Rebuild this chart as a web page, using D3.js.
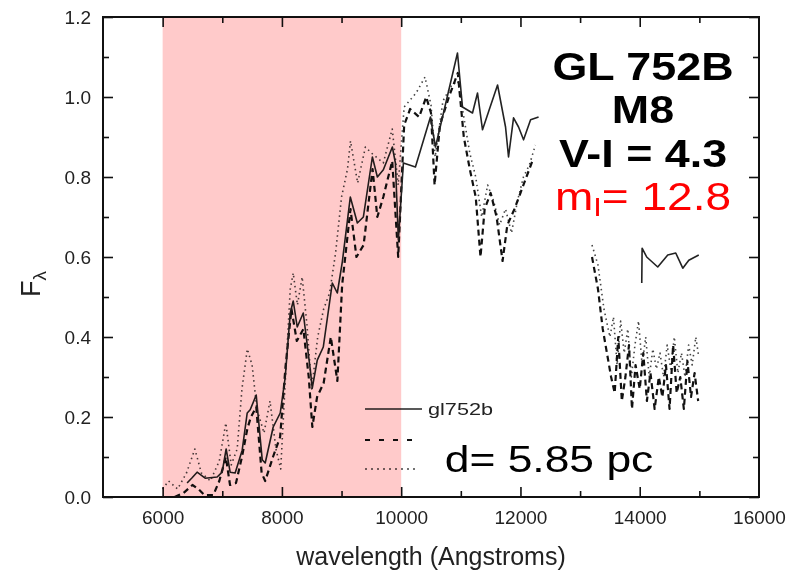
<!DOCTYPE html>
<html>
<head>
<meta charset="utf-8">
<script src="https://cdn.jsdelivr.net/npm/d3@7"></script>
<style>
  body { margin: 0; background: #fff; }
  svg { display: block; font-family: "Liberation Sans", Arial, sans-serif; }
</style>
</head>
<body>
<div id="chart"></div>
<script>
// Constants
const width = 792;
const height = 575;
const plot = {left: 103, right: 759, top: 17, bottom: 497};

// tick values
const majorX = [6000, 8000, 10000, 12000, 14000, 16000];
const minorX = [7000, 9000, 11000, 13000, 15000];
const majorY = [0, 0.2, 0.4, 0.6, 0.8, 1.0, 1.2];
const minorY = [0.1, 0.3, 0.5, 0.7, 0.9, 1.1];

// shaded band (Angstroms)
const band = [6000, 10000];

// gl752b, solid line [wavelength, flux]
const solidA = [
  [6410, 0.035], [6494, 0.048], [6578, 0.062], [6713, 0.047], [6914, 0.05],
  [6998, 0.062], [7065, 0.12], [7132, 0.062], [7216, 0.06], [7334, 0.117],
  [7418, 0.21], [7468, 0.218], [7569, 0.255], [7670, 0.093], [7720, 0.085],
  [7854, 0.175], [7972, 0.21], [8056, 0.30], [8140, 0.46], [8190, 0.49],
  [8257, 0.425], [8358, 0.46], [8476, 0.318], [8509, 0.272], [8593, 0.342],
  [8694, 0.375], [8845, 0.535], [8929, 0.51], [9013, 0.588], [9147, 0.75],
  [9265, 0.685], [9366, 0.70], [9517, 0.85], [9601, 0.80], [9701, 0.818],
  [9852, 0.875], [9903, 0.835], [9953, 0.643], [10037, 0.835], [10239, 0.825],
  [10491, 0.95], [10575, 0.875], [10709, 0.96], [10944, 1.11], [11028, 0.975],
  [11196, 0.96], [11280, 1.01], [11364, 0.918], [11465, 0.963], [11616, 1.03],
  [11750, 0.925], [11800, 0.85], [11884, 0.948], [11968, 0.925], [12052, 0.893],
  [12170, 0.943], [12304, 0.95]
];
const solidB = [
  [14034, 0.535], [14040, 0.622], [14117, 0.60], [14302, 0.575], [14470, 0.605],
  [14604, 0.61], [14722, 0.572], [14823, 0.592], [14990, 0.605]
];

// dashed line
const dashedA = [
  [6200, 0.0], [6350, 0.01], [6500, 0.03], [6600, 0.02], [6700, 0.005],
  [6850, 0.005], [6950, 0.04], [7060, 0.10], [7130, 0.03], [7230, 0.035],
  [7330, 0.10], [7420, 0.17], [7480, 0.20], [7570, 0.225], [7660, 0.06],
  [7720, 0.04], [7850, 0.10], [7970, 0.15], [8060, 0.325], [8160, 0.47],
  [8250, 0.39], [8360, 0.42], [8450, 0.30], [8510, 0.175], [8590, 0.25],
  [8700, 0.285], [8820, 0.40], [8930, 0.29], [9010, 0.53], [9150, 0.72],
  [9250, 0.60], [9370, 0.63], [9520, 0.82], [9600, 0.70], [9700, 0.75],
  [9850, 0.84], [9950, 0.60], [10050, 0.93], [10150, 0.97], [10300, 0.95],
  [10420, 1.0], [10500, 0.96], [10560, 0.78], [10650, 0.93], [10800, 1.0],
  [10950, 1.06], [11050, 0.90], [11150, 0.82], [11250, 0.75], [11330, 0.60],
  [11400, 0.72], [11500, 0.76], [11600, 0.70], [11700, 0.59], [11780, 0.68],
  [11900, 0.72], [12000, 0.76], [12100, 0.80], [12200, 0.84]
];
const dashedB = [
  [13200, 0.60], [13300, 0.52], [13380, 0.42], [13450, 0.36], [13520, 0.30],
  [13580, 0.26], [13640, 0.40], [13700, 0.24], [13760, 0.30], [13820, 0.38],
  [13870, 0.22], [13930, 0.33], [14000, 0.27], [14060, 0.36], [14120, 0.24],
  [14180, 0.31], [14250, 0.22], [14320, 0.30], [14380, 0.25], [14440, 0.33],
  [14500, 0.22], [14560, 0.38], [14620, 0.26], [14680, 0.30], [14740, 0.22],
  [14800, 0.34], [14860, 0.25], [14920, 0.31], [14980, 0.24]
];

// dotted line
const dottedA = [
  [6000, 0.02], [6100, 0.04], [6250, 0.02], [6400, 0.06], [6540, 0.12],
  [6650, 0.06], [6800, 0.04], [6950, 0.09], [7060, 0.185], [7150, 0.08],
  [7250, 0.12], [7330, 0.27], [7420, 0.37], [7500, 0.33], [7580, 0.22],
  [7700, 0.16], [7800, 0.24], [7900, 0.12], [7980, 0.07], [8060, 0.30],
  [8140, 0.52], [8190, 0.56], [8260, 0.48], [8340, 0.55], [8420, 0.43],
  [8500, 0.27], [8600, 0.40], [8700, 0.47], [8800, 0.51], [8900, 0.61],
  [9000, 0.75], [9100, 0.82], [9150, 0.89], [9270, 0.785], [9400, 0.875],
  [9500, 0.86], [9700, 0.835], [9850, 0.92], [9950, 0.78], [10050, 0.975],
  [10250, 1.01], [10400, 1.05], [10500, 0.98], [10570, 0.85], [10700, 0.99],
  [10850, 1.03], [10950, 1.04], [11050, 0.95], [11150, 0.86], [11250, 0.80],
  [11350, 0.70], [11450, 0.78], [11550, 0.74], [11650, 0.68], [11750, 0.72],
  [11850, 0.66], [11950, 0.74], [12050, 0.80], [12150, 0.83], [12250, 0.88]
];
const dottedB = [
  [13200, 0.63], [13300, 0.58], [13400, 0.47], [13500, 0.40], [13560, 0.45],
  [13620, 0.33], [13680, 0.44], [13740, 0.36], [13800, 0.42], [13860, 0.30],
  [13920, 0.38], [13980, 0.44], [14040, 0.33], [14100, 0.40], [14160, 0.30],
  [14220, 0.37], [14280, 0.32], [14340, 0.36], [14400, 0.30], [14460, 0.38],
  [14520, 0.32], [14580, 0.40], [14640, 0.31], [14700, 0.36], [14760, 0.30],
  [14820, 0.38], [14880, 0.33], [14940, 0.40], [14990, 0.35]
];

const styles = {
  solid:  {stroke: "#222", width: 1.6, dash: null},
  dashed: {stroke: "#111", width: 2.2, dash: "6,4"},
  dotted: {stroke: "#444", width: 1.6, dash: "1.5,3.5"}
};

const svg = d3.select("#chart")
  .append("svg")
  .attr("width", width)
  .attr("height", height);

const x = d3.scaleLinear()
  .domain([5000, 16000])
  .range([plot.left, plot.right]);

const y = d3.scaleLinear()
  .domain([0, 1.2])
  .range([plot.bottom, plot.top]);

const x0 = x(5000), x1 = x(16000);
const y0 = y(0), y1 = y(1.2);

// Spectra
const line = d3.line()
  .x(function(d){return x(d[0])})
  .y(function(d){return y(d[1])});

function drawSeries(data, st)
{
  svg.append("path")
    .datum(data)
    .attr("fill", "none")
    .attr("stroke", st.stroke)
    .attr("stroke-width", st.width)
    .attr("stroke-dasharray", st.dash)
    .attr("stroke-linejoin", "round")
    .attr("d", line);
}

drawSeries(dottedA, styles.dotted);
drawSeries(dottedB, styles.dotted);
drawSeries(dashedA, styles.dashed);
drawSeries(dashedB, styles.dashed);
drawSeries(solidA, styles.solid);
drawSeries(solidB, styles.solid);

// Axes (ticks point inward on all four sides)
function styleAxis(g)
{
  g.attr("font-family", null).attr("font-size", null);
  g.select(".domain").remove();
  g.selectAll(".tick line").attr("stroke", "#111").attr("stroke-width", 1.6);
  g.selectAll("text")
    .attr("fill", "#222")
    .style("font-size", "19px");
}

svg.append("g")
  .attr("transform", `translate(0,${y0})`)
  .call(d3.axisBottom(x).tickValues(majorX.slice(0, -1)).tickSize(-10).tickPadding(14).tickFormat(d3.format("d")).tickSizeOuter(0))
  .call(styleAxis);
// last label only, its tick is the frame corner
svg.append("g")
  .attr("transform", `translate(0,${y0})`)
  .call(d3.axisBottom(x).tickValues(majorX.slice(-1)).tickSize(0).tickPadding(14).tickFormat(d3.format("d")).tickSizeOuter(0))
  .call(styleAxis);
svg.append("g")
  .attr("transform", `translate(0,${y0})`)
  .call(d3.axisBottom(x).tickValues(minorX).tickSize(-6).tickFormat("").tickSizeOuter(0))
  .call(styleAxis);

svg.append("g")
  .attr("transform", `translate(0,${y1})`)
  .call(d3.axisTop(x).tickValues(majorX.slice(0, -1)).tickSize(-10).tickFormat("").tickSizeOuter(0))
  .call(styleAxis);
svg.append("g")
  .attr("transform", `translate(0,${y1})`)
  .call(d3.axisTop(x).tickValues(minorX).tickSize(-6).tickFormat("").tickSizeOuter(0))
  .call(styleAxis);

svg.append("g")
  .attr("transform", `translate(${x0},0)`)
  .call(d3.axisLeft(y).tickValues(majorY).tickSize(-10).tickPadding(12).tickFormat(d3.format(".1f")).tickSizeOuter(0))
  .call(styleAxis);
svg.append("g")
  .attr("transform", `translate(${x0},0)`)
  .call(d3.axisLeft(y).tickValues(minorY).tickSize(-6).tickFormat("").tickSizeOuter(0))
  .call(styleAxis);

svg.append("g")
  .attr("transform", `translate(${x1},0)`)
  .call(d3.axisRight(y).tickValues(majorY).tickSize(-10).tickFormat("").tickSizeOuter(0))
  .call(styleAxis);
svg.append("g")
  .attr("transform", `translate(${x1},0)`)
  .call(d3.axisRight(y).tickValues(minorY).tickSize(-6).tickFormat("").tickSizeOuter(0))
  .call(styleAxis);

svg.append("rect")
  .attr("x", x0)
  .attr("y", y1)
  .attr("width", x1 - x0)
  .attr("height", y0 - y1)
  .attr("fill", "none")
  .attr("stroke", "#111")
  .attr("stroke-width", 2);

// Axis titles
svg.append("text")
  .attr("x", 431)
  .attr("y", 565)
  .attr("text-anchor", "middle")
  .attr("fill", "#222")
  .style("font-size", "25px")
  .text("wavelength (Angstroms)");

const fl = svg.append("text")
  .attr("transform", "translate(40,284) rotate(-90)")
  .attr("text-anchor", "middle")
  .attr("fill", "#222")
  .style("font-size", "27px");
fl.append("tspan").text("F");
fl.append("tspan").attr("dy", 6).style("font-size", "19px").text("λ");

// Legend
const legend = [
  {name: "gl752b", st: styles.solid, ly: 409, len: 57, dash: null},
  {name: "", st: styles.dashed, ly: 440, len: 47, dash: "5,9"},
  {name: "", st: styles.dotted, ly: 469, len: 53, dash: "2,4"}
];
legend.forEach(function(d)
{
  svg.append("line")
    .attr("x1", 365).attr("x2", 365 + d.len)
    .attr("y1", d.ly).attr("y2", d.ly)
    .attr("stroke", d.st.stroke)
    .attr("stroke-width", d.st.width)
    .attr("stroke-dasharray", d.dash);
  if (d.name)
  {
    svg.append("text")
      .attr("x", 428).attr("y", d.ly + 6)
      .attr("textLength", 65).attr("lengthAdjust", "spacingAndGlyphs")
      .attr("fill", "#222")
      .style("font-size", "17px")
      .text(d.name);
  }
});

// Shaded band, multiplied over lines and frame
svg.append("rect")
  .attr("x", x(band[0]))
  .attr("y", y1)
  .attr("width", x(band[1]) - x(band[0]))
  .attr("height", y0 - y1)
  .attr("fill", "#ffcaca")
  .style("mix-blend-mode", "multiply");

// Annotations
function label(txt, cx, by, size, weight, color)
{
  return svg.append("text")
    .attr("transform", `translate(${cx},${by}) scale(1.18,1)`)
    .attr("text-anchor", "middle")
    .attr("fill", color)
    .style("font-size", size + "px")
    .style("font-weight", weight)
    .text(txt);
}

label("GL 752B", 643, 80, 38, "bold", "#000");
label("M8", 643, 123, 38, "bold", "#000");
label("V-I = 4.3", 643, 167, 38, "bold", "#000");
const mI = label("", 643, 210, 39, "normal", "#ff0000");
mI.append("tspan").text("m");
mI.append("tspan").attr("dy", 6).style("font-size", "26px").text("I");
mI.append("tspan").attr("dy", -6).text("= 12.8");

svg.append("text")
  .attr("transform", "translate(549,472) scale(1.2,1)")
  .attr("text-anchor", "middle")
  .attr("fill", "#000")
  .style("font-size", "37px")
  .text("d= 5.85 pc");
</script>
</body>
</html>
